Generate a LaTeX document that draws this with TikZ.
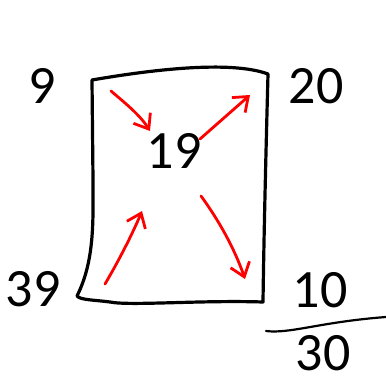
\documentclass[tikz,border=0pt]{standalone}
\usepackage{fontspec}
\setmainfont{Carlito}
\usepackage{tikz}
\usetikzlibrary{arrows.meta}

\begin{document}
\begin{tikzpicture}[
    x=1pt, y=-1pt,
    num/.style={inner sep=0pt, font=\fontsize{54}{54}\selectfont},
    pen/.style={draw=black, line width=3.2pt, line cap=round, line join=round},
    redarr/.style={draw=red, line width=2.8pt, line cap=round, -{Straight Barb[length=13pt, width=20pt, line width=2.8pt]}},
]
    \useasboundingbox (0,0) rectangle (386,377);

    % hand drawn box
    \draw[pen] (92,80) .. controls (150,70) and (230,60) .. (268,74)
        .. controls (266,150) and (264,230) .. (263,302)
        .. controls (200,300) and (130,306) .. (110,302)
        .. controls (95,300) and (80,300) .. (77,296)
        .. controls (95,260) and (93,220) .. (93,180) -- cycle;

    \node[num] (n9) at (42,86) {9};
    \node[num] (n20) at (316,86) {20};
    \node[num] (n19) at (174,151) {19};
    \node[num] (n39) at (33,289) {39};
    \node[num] (n10) at (320,290) {10};
    \node[num] (n30) at (323,353) {30};

    % arrow ends
    \coordinate (a1s) at (111,91);
    \coordinate (a1e) at (150,131);
    \coordinate (a2s) at (200,139);
    \coordinate (a2e) at (250,95);
    \coordinate (a3s) at (105,284);
    \coordinate (a3e) at (142,211);
    \coordinate (a4s) at (201,196);
    \coordinate (a4e) at (245,279);

    \draw[redarr] (a1s) .. controls (125,103) and (140,115) .. (a1e);
    \draw[redarr] (a2s) -- (a2e);
    \draw[redarr] (a3s) .. controls (118,262) and (132,235) .. (a3e);
    \draw[redarr] (a4s) .. controls (220,222) and (235,250) .. (a4e);

    % sum line
    \coordinate (l1) at (266,331);
    \coordinate (l2) at (386,317);
    \draw[pen, line width=2.2pt] (l1) .. controls (290,334) and (320,322) .. (l2);
\end{tikzpicture}
\end{document}
